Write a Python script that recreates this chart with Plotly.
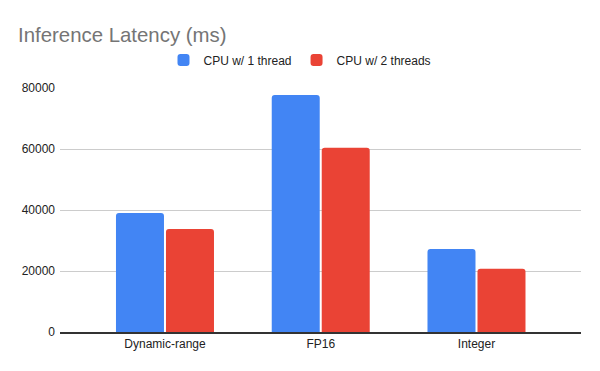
import plotly.graph_objects as go

categories = ["Dynamic-range", "FP16", "Integer"]
series_names = ["CPU w/ 1 thread", "CPU w/ 2 threads"]
one_thread = [39000, 77700, 27200]
two_threads = [33800, 60400, 20700]
y_ticks = [0, 20000, 40000, 60000, 80000]
colors = ["#4285F4", "#EA4335"]

FONT = "Arial, Liberation Sans, sans-serif"

fig = go.Figure()
for name, vals, c in zip(series_names, [one_thread, two_threads], colors):
    fig.add_trace(go.Bar(x=categories, y=vals, name=name, marker_color=c,
                         marker_line_width=0))

fig.update_layout(
    width=600, height=371,
    margin=dict(l=60, r=19, t=88, b=39, autoexpand=False),
    paper_bgcolor="white", plot_bgcolor="white",
    font=dict(family=FONT, size=12, color="#222222"),
    title=dict(text="Inference Latency (ms)", x=18/600, xref="container", xanchor="left",
               y=1-35/371, yref="container", yanchor="middle",
               font=dict(family=FONT, size=20.4, color="#757575")),
    legend=dict(orientation="h", xref="container", x=0.5, xanchor="center",
                yref="container", y=1-60/371, yanchor="middle",
                font=dict(family=FONT, size=12, color="#222222"),
                itemwidth=30, traceorder="normal"),
    barmode="group", bargap=0.358, bargroupgap=0.04, barcornerradius=3,
    xaxis=dict(range=[-0.674, 2.671], showline=True, linecolor="#333333", linewidth=1.5,
               showgrid=False, ticks="", automargin=False,
               tickfont=dict(size=12, color="#222222")),
    yaxis=dict(range=[0, 80000], tickvals=y_ticks, tickformat="d", showgrid=True,
               gridcolor="#cccccc", gridwidth=1, zeroline=False, ticks="", automargin=False,
               ticklabelstandoff=4, tickfont=dict(size=12, color="#222222")),
)

fig.write_html("out.html", config={"displayModeBar": False},
               post_script="document.body.style.margin='0';document.body.style.padding='0';")
